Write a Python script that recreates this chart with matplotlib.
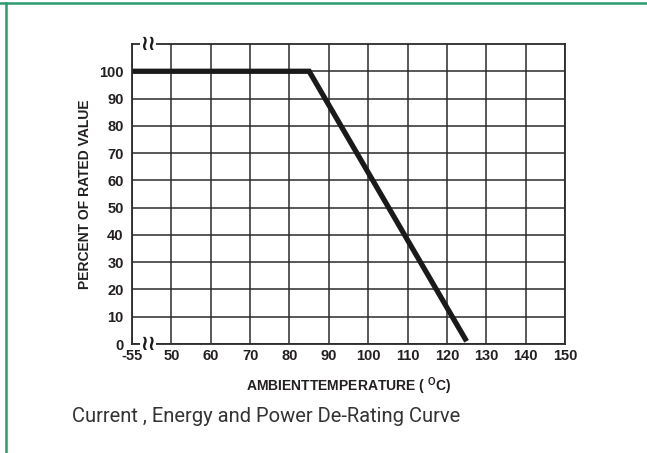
import matplotlib.pyplot as plt
import numpy as np

# x axis is not linear: first column spans -55..50, then 10-degree steps
x_labels = ["-55", "50", "60", "70", "80", "90", "100", "110", "120", "130", "140", "150"]
y_ticks = [0, 10, 20, 30, 40, 50, 60, 70, 80, 90, 100]

# curve points as (temperature, percent)
curve_temp = [-55, 85, 125]
curve_pct = [100, 100, 1]


def temp_to_pos(t):
    # position along the grid: -55 -> 0, 50 -> 1, 60 -> 2, ...
    t = np.asarray(t, dtype=float)
    return np.where(t <= 50, (t + 55) / 105.0, 1 + (t - 50) / 10.0)


plt.rcParams["font.family"] = ["Liberation Sans", "DejaVu Sans"]
plt.rcParams["mathtext.fontset"] = "custom"
plt.rcParams["mathtext.bf"] = "Liberation Sans:bold"

fig = plt.figure(figsize=(6.47, 4.53), dpi=100)
ax = fig.add_axes([132 / 647, 1 - 344 / 453, 433 / 647, 300 / 453])

ax.set_xlim(0, 11)
ax.set_ylim(0, 110)
ax.set_xticks(np.arange(12))
ax.set_xticklabels(x_labels, fontsize=10.5, fontweight="bold", color="#231f20")
ax.set_yticks(y_ticks)
ax.set_yticklabels([str(v) for v in y_ticks], fontsize=10.5, fontweight="bold", color="#231f20")
ax.tick_params(axis="x", length=0, pad=3.5)
ax.tick_params(axis="y", length=0, pad=6)

ax.grid(True, color="#2b2b2b", linewidth=1.1)
ax.set_axisbelow(True)
for s in ax.spines.values():
    s.set_color("#2b2b2b")
    s.set_linewidth(1.3)

ax.plot(temp_to_pos(curve_temp), curve_pct, color="#1a1a1a", linewidth=3.8,
        solid_capstyle="butt", solid_joinstyle="miter", clip_on=False)

# axis break marks
for yv in (0, 110):
    ax.text(0.4, yv, "\u2240\u2240", ha="center", va="center", fontsize=15,
            fontweight="bold", color="#1a1a1a", family="DejaVu Sans",
            bbox=dict(facecolor="white", edgecolor="none", pad=0.0), clip_on=False)

ax.set_ylabel("PERCENT OF RATED VALUE", fontsize=10, fontweight="bold",
              color="#231f20", labelpad=5)
ax.set_xlabel("AMBIENTTEMPERATURE ( $^{\\mathbf{O}}$C)", fontsize=10,
              fontweight="bold", color="#231f20", labelpad=9)

fig.text(266 / 647, 1 - 417 / 453, "Current , Energy and Power De-Rating Curve",
         ha="center", va="center", fontsize=14.5, color="#333333",
         family="Roboto", fontweight="normal")

# green frame (top and left only)
fig.add_artist(plt.Line2D([0, 1], [1 - 3 / 453] * 2, color="#2e9a6e", linewidth=1.8,
                          transform=fig.transFigure))
fig.add_artist(plt.Line2D([6 / 647] * 2, [0, 1 - 3 / 453], color="#2e9a6e", linewidth=1.8,
                          transform=fig.transFigure))

fig.savefig("out.png", dpi=100)
